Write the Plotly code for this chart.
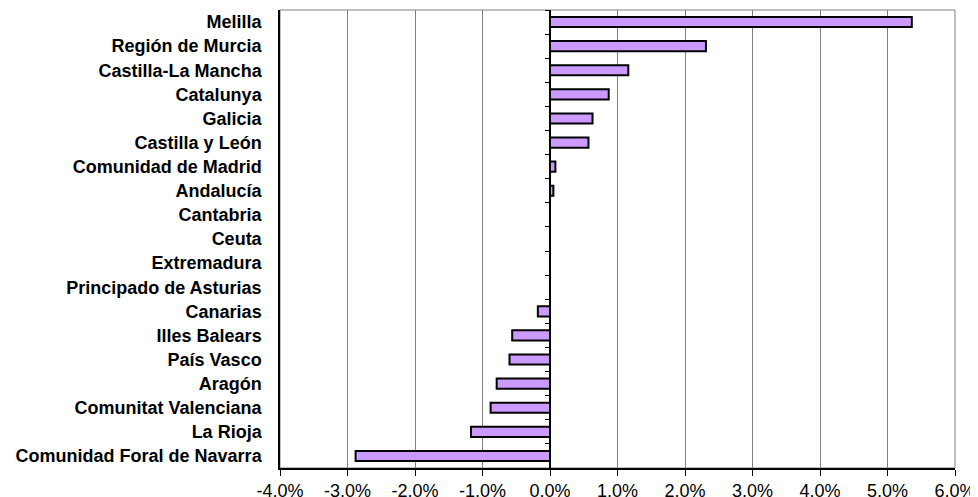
import plotly.graph_objects as go

regions = ["Melilla", "Región de Murcia", "Castilla-La Mancha", "Catalunya", "Galicia",
           "Castilla y León", "Comunidad de Madrid", "Andalucía", "Cantabria", "Ceuta",
           "Extremadura", "Principado de Asturias", "Canarias", "Illes Balears",
           "País Vasco", "Aragón", "Comunitat Valenciana", "La Rioja",
           "Comunidad Foral de Navarra"]
values = [5.36, 2.31, 1.16, 0.87, 0.63, 0.57, 0.08, 0.05, 0.0, 0.0, 0.0, 0.0,
          -0.18, -0.56, -0.60, -0.79, -0.88, -1.17, -2.88]
x_ticks = [-4, -3, -2, -1, 0, 1, 2, 3, 4, 5, 6]
x_tick_labels = ["-4,0%", "-3,0%", "-2,0%", "-1,0%", "0,0%", "1,0%", "2,0%", "3,0%", "4,0%", "5,0%", "6,0%"]

cats = regions[::-1]
vals = values[::-1]
FONT = "Liberation Sans, Arial, sans-serif"

fig = go.Figure()
fig.add_trace(go.Bar(
    y=cats, x=vals, orientation="h",
    marker=dict(color="#CC99FF", line=dict(color="black", width=2)),
    width=0.42, showlegend=False, hoverinfo="skip"))
# invisible trace for the zero-position axis with boundary ticks
fig.add_trace(go.Bar(
    y=cats, x=[0] * len(cats), orientation="h", yaxis="y2",
    marker=dict(color="rgba(0,0,0,0)"), showlegend=False, hoverinfo="skip"))

# page body has an 8px default margin; size the figure to fit the window
fig.update_layout(
    width=970, height=489,
    margin=dict(l=272, r=23, t=2, b=29, autoexpand=False),
    paper_bgcolor="white", plot_bgcolor="white",
    font=dict(family=FONT, color="black"),
    xaxis=dict(range=[-4, 6], tickvals=x_ticks, ticktext=x_tick_labels,
               showgrid=True, gridcolor="#808080", gridwidth=1,
               showline=True, linecolor="black", linewidth=1.5,
               ticks="outside", ticklen=6, tickcolor="black",
               tickfont=dict(size=18, family=FONT), zeroline=False, automargin=False),
    yaxis=dict(categoryorder="array", categoryarray=cats,
               showline=True, linecolor="black", linewidth=1.5,
               ticks="", tickfont=dict(size=18, family=FONT),
               ticklabelstandoff=13, showgrid=False, automargin=False,
               range=[-0.5, len(cats) - 0.5]),
    yaxis2=dict(overlaying="y", anchor="free", position=0.4, matches="y",
                categoryorder="array", categoryarray=cats,
                showline=True, linecolor="black", linewidth=1.5,
                ticks="outside", ticklen=4, tickcolor="black", tickson="boundaries",
                showticklabels=False, showgrid=False, automargin=False),
    shapes=[dict(type="rect", xref="paper", yref="paper", x0=0, x1=1, y0=0, y1=1,
                 line=dict(color="#808080", width=1), layer="below")],
)
fig.update_layout(yaxis=dict(tickprefix="<b>", ticksuffix="</b>"))

fig.write_html("out.html")
